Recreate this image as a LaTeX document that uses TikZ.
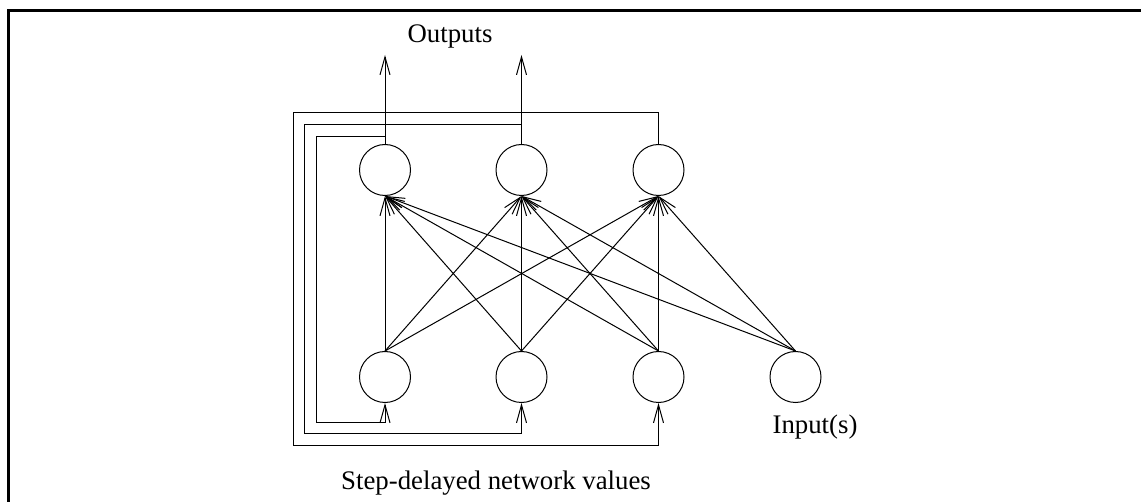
\documentclass[tikz,border=0pt]{standalone}
\usepackage{fontspec}
\setmainfont{Liberation Serif}
\usetikzlibrary{arrows.meta}
\begin{document}
\begin{tikzpicture}[x=1pt,y=-1pt,
  unit/.style={draw,circle,minimum size=51pt,inner sep=0pt,line width=1pt},
  wire/.style={line width=1pt},
  arr/.style={wire,-{Straight Barb[length=18pt,width=10pt,line width=1pt]}},
  lbl/.style={font=\fontsize{26.8}{30}\selectfont,inner sep=0pt}]
\useasboundingbox (0,0) rectangle (1141,502);
% page frame (top and left edges)
\draw[line width=3pt] (8.5,502) -- (8.5,10.7) -- (1141,10.7);

% output layer
\node[unit] (t1) at (385,170) {};
\node[unit] (t2) at (521.5,170) {};
\node[unit] (t3) at (658.5,170) {};
% input layer
\node[unit] (b1) at (385,377) {};
\node[unit] (b2) at (521.5,377) {};
\node[unit] (b3) at (658.5,377) {};
\node[unit] (in) at (795.5,377) {};

% full connections
\foreach \s in {b1,b2,b3,in}
  \foreach \t in {t1,t2,t3}
    \draw[arr] (\s.north) -- (\t.south);

% outputs
\coordinate (y1) at (385,55);
\coordinate (y2) at (521.5,55);
\draw[arr] (t1.north) -- (y1);
\draw[arr] (t2.north) -- (y2);

% step-delayed feedback loops
\coordinate (a1) at (293,113);  \coordinate (a2) at (293,446);
\coordinate (c1) at (304.5,125); \coordinate (c2) at (304.5,434);
\coordinate (d1) at (316,136.5); \coordinate (d2) at (316,423);
\draw[arr] (t3.north) |- (a1) -- (a2) -| (b3.south);
\draw[arr] (t2.north) |- (c1) -- (c2) -| (b2.south);
\draw[arr] (t1.north) |- (d1) -- (d2) -| (b1.south);

% labels
\node[lbl] (lo) at (450,36) {Outputs};
\node[lbl] (ls) at (496,483) {Step-delayed network values};
\node[lbl] (li) at (815,427) {Input(s)};
\end{tikzpicture}
\end{document}
